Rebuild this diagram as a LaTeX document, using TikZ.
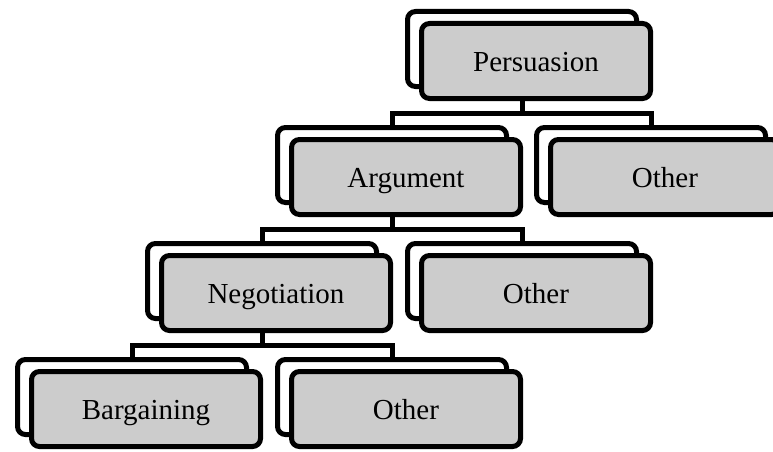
\documentclass[tikz,border=0pt]{standalone}
\usepackage{fontspec}
\setmainfont{Liberation Serif}
\usetikzlibrary{calc}
\pgfdeclarelayer{backl}
\pgfdeclarelayer{connl}
\pgfsetlayers{backl,connl,main}
\begin{document}
\begin{tikzpicture}[x=1pt,y=1pt,
  box/.style={draw=black, line width=5pt, rounded corners=8pt, inner sep=0pt,
    minimum width=229pt, minimum height=75pt},
  frontbox/.style={box, fill=black!20, font=\fontsize{29}{34}\selectfont,
    text height=26pt, text depth=6pt},
  backbox/.style={box, fill=white},
  conn/.style={draw=black, line width=5pt}]
\useasboundingbox (0,0) rectangle (773,-452);
\clip (0,0) rectangle (773,-452);
% front boxes
\node[frontbox] (p)  at (536,-61)  {Persuasion};
\node[frontbox] (a)  at (406,-177) {Argument};
\node[frontbox] (o1) at (665,-177) {Other};
\node[frontbox] (n)  at (276,-293) {Negotiation};
\node[frontbox] (o2) at (536,-293) {Other};
\node[frontbox] (b)  at (146,-409) {Bargaining};
\node[frontbox] (o3) at (406,-409) {Other};
% back boxes
\begin{pgfonlayer}{backl}
\foreach \n in {p,a,o1,n,o2,b,o3}{
  \node[backbox] (\n b) at ($(\n)+(-14,12)$) {};
}
\end{pgfonlayer}
% connectors
\begin{pgfonlayer}{connl}
\path ($(p.south)!0.5!(ab.north)$) coordinate (m1);
\path ($(a.south)!0.5!(nb.north)$) coordinate (m2);
\path ($(n.south)!0.5!(bb.north)$) coordinate (m3);
\draw[conn] (pb.south) -- (pb.south |- m1);
\draw[conn] (ab.north) |- (pb.south |- m1) -| (o1b.north);
\draw[conn] (ab.south) -- (ab.south |- m2);
\draw[conn] (nb.north) |- (ab.south |- m2) -| (o2b.north);
\draw[conn] (nb.south) -- (nb.south |- m3);
\draw[conn] (bb.north) |- (nb.south |- m3) -| (o3b.north);
\end{pgfonlayer}
\end{tikzpicture}
\end{document}
